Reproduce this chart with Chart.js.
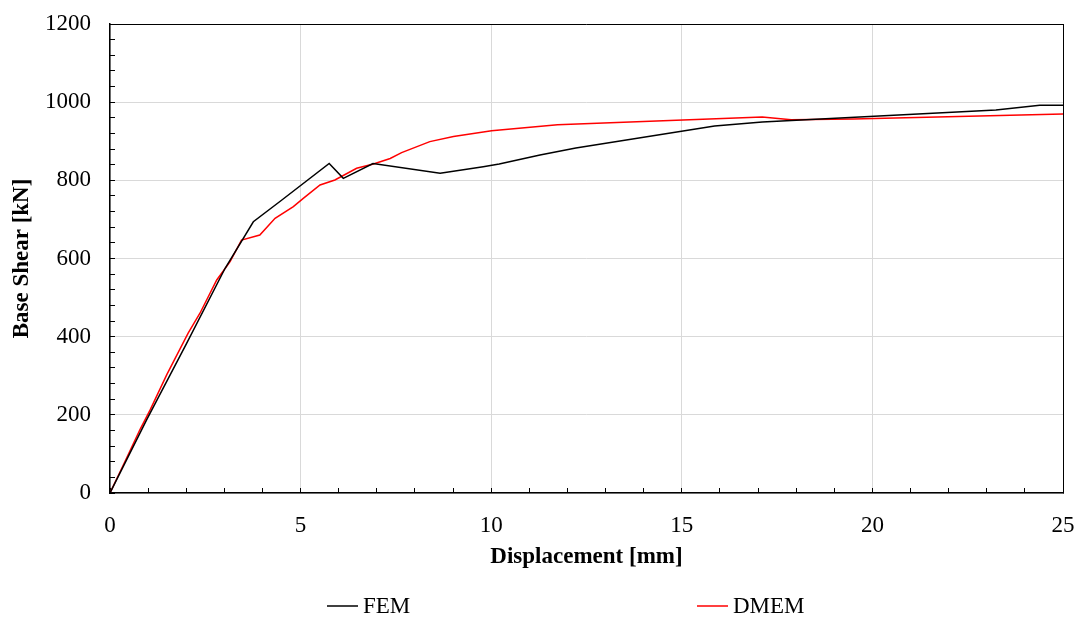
<!DOCTYPE html>
<html>
<head>
<meta charset="utf-8">
<script src="https://cdn.jsdelivr.net/npm/chart.js@4"></script>
<style>
  html, body { margin: 0; padding: 0; background: #fff; }
  #wrap { width: 1079px; height: 619px; }
</style>
</head>
<body>
<div id="wrap"><canvas id="chart" width="1079" height="619"></canvas></div>
<script>
// Series
const femX  = [0, 0.96, 2.01, 3.02, 3.76, 4.5, 5.75, 6.12, 6.9, 8.66, 9.79, 10.21, 11.28, 12.22, 15.86, 17.11, 23.24, 24.39, 25];
const femY  = [0, 187, 383, 575, 694, 749, 843, 805, 843, 818, 835, 842, 865, 883, 939, 949, 980, 992, 992];
const dmemX = [0, 0.39, 0.79, 1.05, 1.49, 2.05, 2.36, 2.8, 3.15, 3.45, 3.93, 4.33, 4.81, 5.07, 5.51, 5.9, 6.47, 6.91, 7.35, 7.65, 8.39, 9.01, 10.01, 11.74, 17.11, 17.87, 19.5, 21.7, 25];
const dmemY = [0, 80, 163, 212, 303, 409, 460, 545, 592, 647, 660, 703, 733, 754, 788, 801, 831, 842, 856, 871, 899, 912, 927, 942, 962, 955, 957, 962, 970];

const seriesNames = ['FEM', 'DMEM'];
const xMin = 0, xMax = 25, xMajor = 5, xMinor = 1;
const yMin = 0, yMax = 1200, yMajor = 200, yMinor = 40;

const toPoints = (xs, ys) => xs.map((x, i) => ({ x: x, y: ys[i] }));

Chart.defaults.font.family = "'Liberation Serif', 'Times New Roman', serif";
Chart.defaults.font.size = 23;
Chart.defaults.color = '#000';

// legend row drawn under the axis title, spaced like the reference
const legendRow = {
    id: 'legendRow',
    afterDraw(chart) {
        const ctx = chart.ctx;
        const starts = [327, 697];
        const y = 606;
        ctx.save();
        ctx.font = '23px ' + Chart.defaults.font.family;
        ctx.textBaseline = 'middle';
        ctx.textAlign = 'left';
        chart.data.datasets.forEach((ds, i) => {
            ctx.strokeStyle = ds.borderColor;
            ctx.lineWidth = ds.borderWidth;
            ctx.beginPath();
            ctx.moveTo(starts[i], y);
            ctx.lineTo(starts[i] + 31, y);
            ctx.stroke();
            ctx.fillStyle = '#000';
            ctx.fillText(ds.label, starts[i] + 36, y + 1);
        });
        ctx.restore();
    }
};

const isMajor = (v, step) => Math.abs(v / step - Math.round(v / step)) < 1e-6;
const noPad = (s) => { s.paddingLeft = 0; s.paddingRight = 0; s.paddingTop = 0; s.paddingBottom = 0; };

new Chart(document.getElementById('chart'), {
    type: 'line',
    data: {
        datasets: [{
            label: seriesNames[0],
            data: toPoints(femX, femY),
            borderColor: '#000000',
            backgroundColor: '#000000',
            borderWidth: 1.5,
            pointRadius: 0,
            tension: 0
        }, {
            label: seriesNames[1],
            data: toPoints(dmemX, dmemY),
            borderColor: '#ff0000',
            backgroundColor: '#ff0000',
            borderWidth: 1.5,
            pointRadius: 0,
            tension: 0
        }]
    },
    options: {
        responsive: false,
        animation: false,
        layout: { padding: { top: 24, right: 16, left: 0, bottom: 32 } },
        plugins: {
            legend: { display: false },
            tooltip: { enabled: false }
        },
        scales: {
            x: {
                type: 'linear',
                min: xMin,
                max: xMax,
                afterFit: (s) => { s.height = 94; noPad(s); },
                ticks: {
                    stepSize: xMinor,
                    padding: 24,
                    maxRotation: 0,
                    autoSkip: false,
                    callback: (v) => isMajor(v, xMajor) ? v : ''
                },
                grid: {
                    color: (c) => c.tick && c.tick.value === xMax ? '#000' : (isMajor(c.tick.value, xMajor) ? '#d9d9d9' : 'rgba(0,0,0,0)'),
                    lineWidth: 1,
                    tickLength: -5,
                    tickColor: '#000'
                },
                border: { color: '#000', width: 1.5 },
                title: {
                    display: true,
                    text: 'Displacement [mm]',
                    font: { size: 23, weight: 'bold' },
                    padding: { top: 0, bottom: 16 }
                }
            },
            y: {
                type: 'linear',
                min: yMin,
                max: yMax,
                afterFit: (s) => { s.width = 110; noPad(s); },
                ticks: {
                    stepSize: yMinor,
                    padding: 24,
                    autoSkip: false,
                    callback: (v) => isMajor(v, yMajor) ? v : ''
                },
                grid: {
                    color: (c) => c.tick && c.tick.value === yMax ? '#000' : (isMajor(c.tick.value, yMajor) ? '#d9d9d9' : 'rgba(0,0,0,0)'),
                    lineWidth: 1,
                    tickLength: -5,
                    tickColor: '#000'
                },
                border: { color: '#000', width: 1.5 },
                title: {
                    display: true,
                    text: 'Base Shear [kN]',
                    font: { size: 23, weight: 'bold' },
                    padding: { top: 8, bottom: 0 }
                }
            }
        }
    },
    plugins: [legendRow]
});
</script>
</body>
</html>
